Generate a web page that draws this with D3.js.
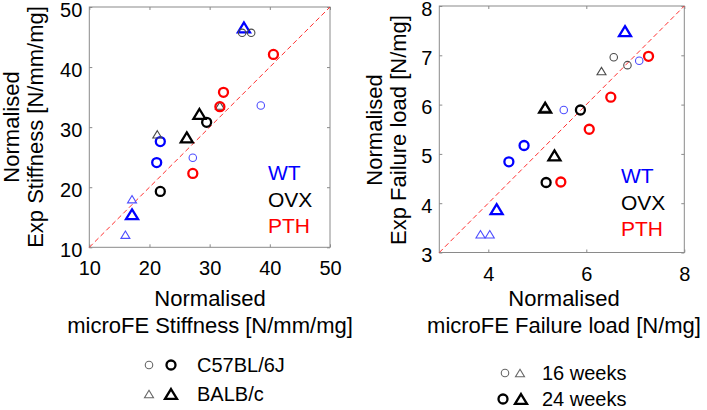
<!DOCTYPE html>
<html>
<head>
<meta charset="utf-8">
<script src="https://cdn.jsdelivr.net/npm/d3@7"></script>
<style>
  body { margin: 0; background: #fff; }
  svg { display: block; font-family: Arial, "Liberation Sans", sans-serif; }
</style>
</head>
<body>
<div id="chart"></div>
<script>
// Specimens (same order in both panels)
const specimenGroup  = ["WT","WT","WT","WT","WT","WT","WT","WT",
                        "OVX","OVX","OVX","OVX","OVX","OVX","OVX","OVX",
                        "PTH","PTH","PTH","PTH"];
const specimenStrain = ["C57BL/6J","C57BL/6J","C57BL/6J","C57BL/6J","BALB/c","BALB/c","BALB/c","BALB/c",
                        "C57BL/6J","C57BL/6J","C57BL/6J","C57BL/6J","BALB/c","BALB/c","BALB/c","BALB/c",
                        "C57BL/6J","C57BL/6J","C57BL/6J","C57BL/6J"];
const specimenAge    = [16,16,24,24,16,16,24,24, 16,16,24,24,16,16,24,24, 24,24,24,24];

// Stiffness [N/mm/mg]
const microStiffness = [38.5,27.2,21.8,21.2,17.1,16.0,35.7,17.1, 35.4,36.9,29.5,21.8,31.7,21.3,28.3,26.2, 40.6,32.3,31.7,27.2];
const expStiffness   = [33.6,24.9,27.6,24.1,18.0,12.1,46.6,15.5, 45.7,45.7,30.8,19.3,33.6,28.8,32.2,28.3, 42.1,35.8,33.4,22.3];

// Failure load [N/mg]
const microLoad = [7.08,5.54,4.73,4.42,4.03,3.84,6.79,4.17, 6.56,6.84,5.88,5.18,6.31,5.16,5.16,5.35, 7.27,6.50,6.06,5.48];
const expLoad   = [6.89,5.89,5.17,4.84,3.37,3.37,7.49,3.88, 6.96,6.80,5.89,4.42,6.68,5.94,5.94,4.97, 6.98,6.15,5.50,4.43];

const stiffTicks = [10, 20, 30, 40, 50];
const loadXTicks = [4, 6, 8];
const loadYTicks = [3, 4, 5, 6, 7, 8];
const groupNames = ["WT", "OVX", "PTH"];
const strainNames = ["C57BL/6J", "BALB/c"];
const ageNames = ["16 weeks", "24 weeks"];

const W = 707, H = 410;
const svg = d3.select("#chart").append("svg")
    .attr("width", W)
    .attr("height", H);

const groupColor = d3.scaleOrdinal().domain(groupNames).range(["#0000ff", "#000000", "#ff0000"]);
const thinColor = d3.scaleOrdinal().domain(groupNames).range(["#4d4dff", "#4a4a4a", "#ff4d4d"]);

// triangle centred on its bounding box
const triangle = {
    draw(ctx, size) {
        const w = Math.sqrt(size) * 1.2, h = w * 0.82;
        ctx.moveTo(0, -h / 2);
        ctx.lineTo(w / 2, h / 2);
        ctx.lineTo(-w / 2, h / 2);
        ctx.closePath();
    }
};
const circle = {
    draw(ctx, size) {
        const r = Math.sqrt(size) / 2;
        ctx.moveTo(r, 0);
        ctx.arc(0, 0, r, 0, 2 * Math.PI);
    }
};

function markerPath(strain, age) {
    const bold = age === 24;
    if (strain === "BALB/c") return d3.symbol(triangle, bold ? 100 : 56)();
    return d3.symbol(circle, bold ? 81 : 56)();
}

function drawPanel(opt) {
    const x = d3.scaleLinear().domain(opt.xDomain).range(opt.xRange);
    const y = d3.scaleLinear().domain(opt.yDomain).range(opt.yRange);
    const g = svg.append("g");

    // frame
    g.append("rect")
        .attr("x", opt.xRange[0]).attr("y", opt.yRange[1])
        .attr("width", opt.xRange[1] - opt.xRange[0])
        .attr("height", opt.yRange[0] - opt.yRange[1])
        .attr("fill", "none").attr("stroke", "#8a8a8a").attr("stroke-width", 1);

    // axes (inward ticks, mirrored)
    const fmt = d3.format("d");
    const bottom = g.append("g").attr("class", "x-axis")
        .attr("transform", `translate(0,${opt.yRange[0]})`)
        .call(d3.axisBottom(x).tickValues(opt.xTicks).tickFormat(fmt).tickSize(-3).tickSizeOuter(0));
    const left = g.append("g").attr("class", "y-axis")
        .attr("transform", `translate(${opt.xRange[0]},0)`)
        .call(d3.axisLeft(y).tickValues(opt.yTicks).tickFormat(fmt).tickSize(-3).tickSizeOuter(0));
    g.append("g").attr("transform", `translate(0,${opt.yRange[1]})`)
        .call(d3.axisTop(x).tickValues(opt.xTicks).tickSize(-3).tickSizeOuter(0).tickFormat(""));
    g.append("g").attr("transform", `translate(${opt.xRange[1]},0)`)
        .call(d3.axisRight(y).tickValues(opt.yTicks).tickSize(-3).tickSizeOuter(0).tickFormat(""));

    g.selectAll(".domain").remove();
    g.selectAll(".tick line").attr("stroke", "#8a8a8a");
    g.selectAll(".tick text").attr("fill", "#000").attr("font-size", "20px")
        .attr("font-family", "Arial, 'Liberation Sans', sans-serif");
    bottom.selectAll(".tick text").attr("y", 28).attr("dy", 0);
    left.selectAll(".tick text").attr("x", -7).attr("dy", "0.45em");

    // identity line
    g.append("line")
        .attr("x1", x(opt.xDomain[0])).attr("y1", y(opt.yDomain[0]))
        .attr("x2", x(opt.xDomain[1])).attr("y2", y(opt.yDomain[1]))
        .attr("stroke", "#ff3030").attr("stroke-width", 1)
        .attr("stroke-dasharray", "5,3");

    // points
    const pts = opt.xs.map((v, i) => ({
        x: v, y: opt.ys[i],
        group: specimenGroup[i], strain: specimenStrain[i], age: specimenAge[i]
    }));
    g.selectAll(".pt")
        .data(pts)
        .enter()
        .append("path")
        .attr("class", "pt")
        .attr("transform", d => `translate(${x(d.x)},${y(d.y)})`)
        .attr("d", d => markerPath(d.strain, d.age))
        .attr("fill", "none")
        .attr("stroke", d => d.age === 24 ? groupColor(d.group) : thinColor(d.group))
        .attr("stroke-width", d => d.age === 24 ? 2.3 : 1.1);

    // group legend inside plot
    g.selectAll(".grp")
        .data(groupNames)
        .enter()
        .append("text")
        .attr("x", opt.legendX)
        .attr("y", (d, i) => opt.legendY + i * 26.5)
        .attr("fill", d => groupColor(d))
        .attr("font-size", "21px")
        .text(d => d);

    // axis labels
    const xl = svg.append("text")
        .attr("text-anchor", "middle")
        .attr("font-size", "22px")
        .attr("fill", "#000");
    xl.append("tspan").attr("x", opt.xLabelX).attr("y", 306).text("Normalised");
    xl.append("tspan").attr("x", opt.xLabelX).attr("y", 333).text(opt.xLabel);

    const yl = svg.append("text")
        .attr("text-anchor", "middle")
        .attr("font-size", "22px")
        .attr("fill", "#000")
        .attr("transform", `translate(${opt.yLabelX},${opt.yLabelY}) rotate(-90)`);
    yl.append("tspan").attr("x", 0).attr("y", 0).text("Normalised");
    yl.append("tspan").attr("x", 0).attr("y", 24).text(opt.yLabel);
}

drawPanel({
    xDomain: [10, 50], yDomain: [10, 50],
    xRange: [89.3, 330], yRange: [247.3, 7],
    xTicks: stiffTicks, yTicks: stiffTicks,
    xs: microStiffness, ys: expStiffness,
    legendX: 268, legendY: 180,
    xLabel: "microFE Stiffness [N/mm/mg]", xLabelX: 210,
    yLabel: "Exp Stiffness [N/mm/mg]", yLabelX: 19, yLabelY: 127
});

drawPanel({
    xDomain: [3, 8], yDomain: [3, 8],
    xRange: [439.3, 684.3], yRange: [252.5, 6],
    xTicks: loadXTicks, yTicks: loadYTicks,
    xs: microLoad, ys: expLoad,
    legendX: 621, legendY: 183,
    xLabel: "microFE Failure load [N/mg]", xLabelX: 564,
    yLabel: "Exp Failure load [N/mg]", yLabelX: 382, yLabelY: 130
});

// bottom legends
function legendRow(gx, gy, shapes, label) {
    const row = svg.append("g").attr("transform", `translate(0,${gy})`);
    row.selectAll("path")
        .data(shapes)
        .enter()
        .append("path")
        .attr("transform", d => `translate(${d.x},0)`)
        .attr("d", d => markerPath(d.strain, d.age))
        .attr("fill", "none")
        .attr("stroke", d => d.age === 24 ? "#000" : "#666")
        .attr("stroke-width", d => d.age === 24 ? 2.3 : 1.1);
    row.append("text")
        .attr("x", gx)
        .attr("dy", "0.36em")
        .attr("font-size", "20px")
        .attr("fill", "#000")
        .text(label);
}

legendRow(197, 365, [{x: 149, strain: strainNames[0], age: 16}, {x: 171, strain: strainNames[0], age: 24}], strainNames[0]);
legendRow(197, 394, [{x: 149, strain: strainNames[1], age: 16}, {x: 171, strain: strainNames[1], age: 24}], strainNames[1]);
legendRow(542, 373, [{x: 505, strain: strainNames[0], age: 16}, {x: 520, strain: strainNames[1], age: 16}], ageNames[0]);
legendRow(542, 399, [{x: 503, strain: strainNames[0], age: 24}, {x: 521, strain: strainNames[1], age: 24}], ageNames[1]);
</script>
</body>
</html>
